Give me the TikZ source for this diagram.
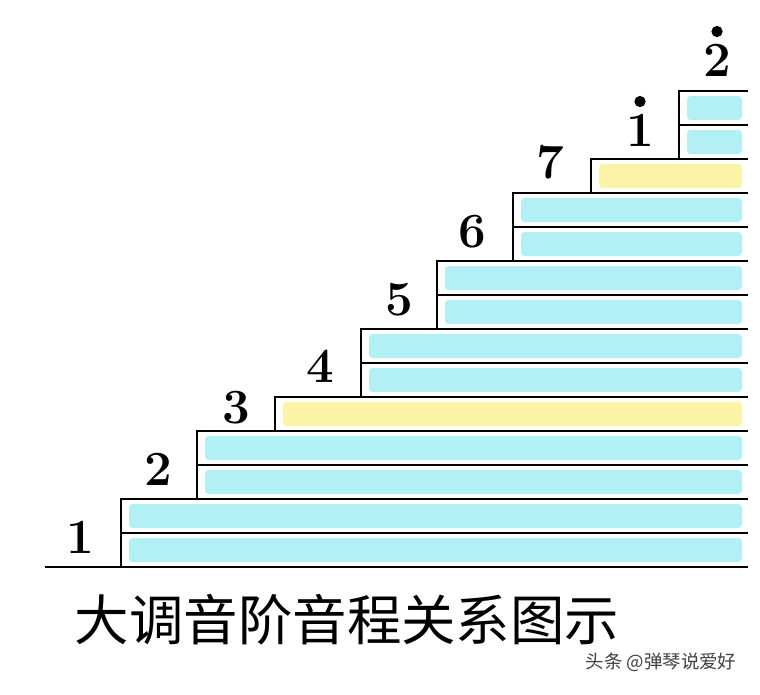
\documentclass[tikz,border=0pt]{standalone}
\usepackage{fontspec}
\newfontfamily\cjk{Noto Sans CJK SC}
\definecolor{tonecyan}{HTML}{B3F0F5}
\definecolor{semiyellow}{HTML}{FBF4A6}
\tikzset{
  stair/.style={line width=1.6pt},
  wholetone/.style={fill=tonecyan, rounded corners=2pt},
  halftone/.style={fill=semiyellow, rounded corners=2pt},
  degree/.style={font=\fontsize{28}{30}\selectfont\bfseries, inner sep=0pt},
}

\begin{document}
\begin{tikzpicture}[x=0.02cm, y=-0.02cm]
  \useasboundingbox (0,0) rectangle (760,694);
  % coloured bands
  \fill[wholetone] (129,504) rectangle (742,528);
  \fill[wholetone] (129,538) rectangle (742,562);
  \fill[wholetone] (205,436) rectangle (742,460);
  \fill[wholetone] (205,470) rectangle (742,494);
  \fill[halftone] (283,402) rectangle (742,426);
  \fill[wholetone] (369,334) rectangle (742,358);
  \fill[wholetone] (369,368) rectangle (742,392);
  \fill[wholetone] (445,266) rectangle (742,290);
  \fill[wholetone] (445,300) rectangle (742,324);
  \fill[wholetone] (521,198) rectangle (742,222);
  \fill[wholetone] (521,232) rectangle (742,256);
  \fill[halftone] (599,164) rectangle (742,188);
  \fill[wholetone] (687,96) rectangle (742,120);
  \fill[wholetone] (687,130) rectangle (742,154);
  % stairs
  \draw[stair] (45,567) -- (748,567);
  \draw[stair] (121,567) -- (121,499) -- (748,499);
  \draw[stair] (121,533) -- (748,533);
  \draw[stair] (197,499) -- (197,431) -- (748,431);
  \draw[stair] (197,465) -- (748,465);
  \draw[stair] (275,431) -- (275,397) -- (748,397);
  \draw[stair] (361,397) -- (361,329) -- (748,329);
  \draw[stair] (361,363) -- (748,363);
  \draw[stair] (437,329) -- (437,261) -- (748,261);
  \draw[stair] (437,295) -- (748,295);
  \draw[stair] (513,261) -- (513,193) -- (748,193);
  \draw[stair] (513,227) -- (748,227);
  \draw[stair] (591,193) -- (591,159) -- (748,159);
  \draw[stair] (679,159) -- (679,91) -- (748,91);
  \draw[stair] (679,125) -- (748,125);
  % scale degrees
  \node[degree] (n1) at (80,537) {1};
  \node[degree] (n2) at (158,469) {2};
  \node[degree] (n3) at (236,408) {3};
  \node[degree] (n4) at (320,366) {4};
  \node[degree] (n5) at (399,300) {5};
  \node[degree] (n6) at (472,232) {6};
  \node[degree] (n7) at (550,162) {7};
  \node[degree] (n8) at (640,130) {1};
  \node[degree] (n9) at (717,60) {2};
  \fill (n8.north) ++(0,-12) circle (3.2pt);
  \fill (n9.north) ++(0,-12) circle (3.2pt);
  % caption
  \node[font=\cjk\fontsize{31}{33}\selectfont] (title) at (347,620) {大调音阶音程关系图示};
  \node[font=\cjk\fontsize{10.5}{12}\selectfont, text=black!75] (mark) at (661,662) {头条 @弹琴说爱好};
\end{tikzpicture}
\end{document}
